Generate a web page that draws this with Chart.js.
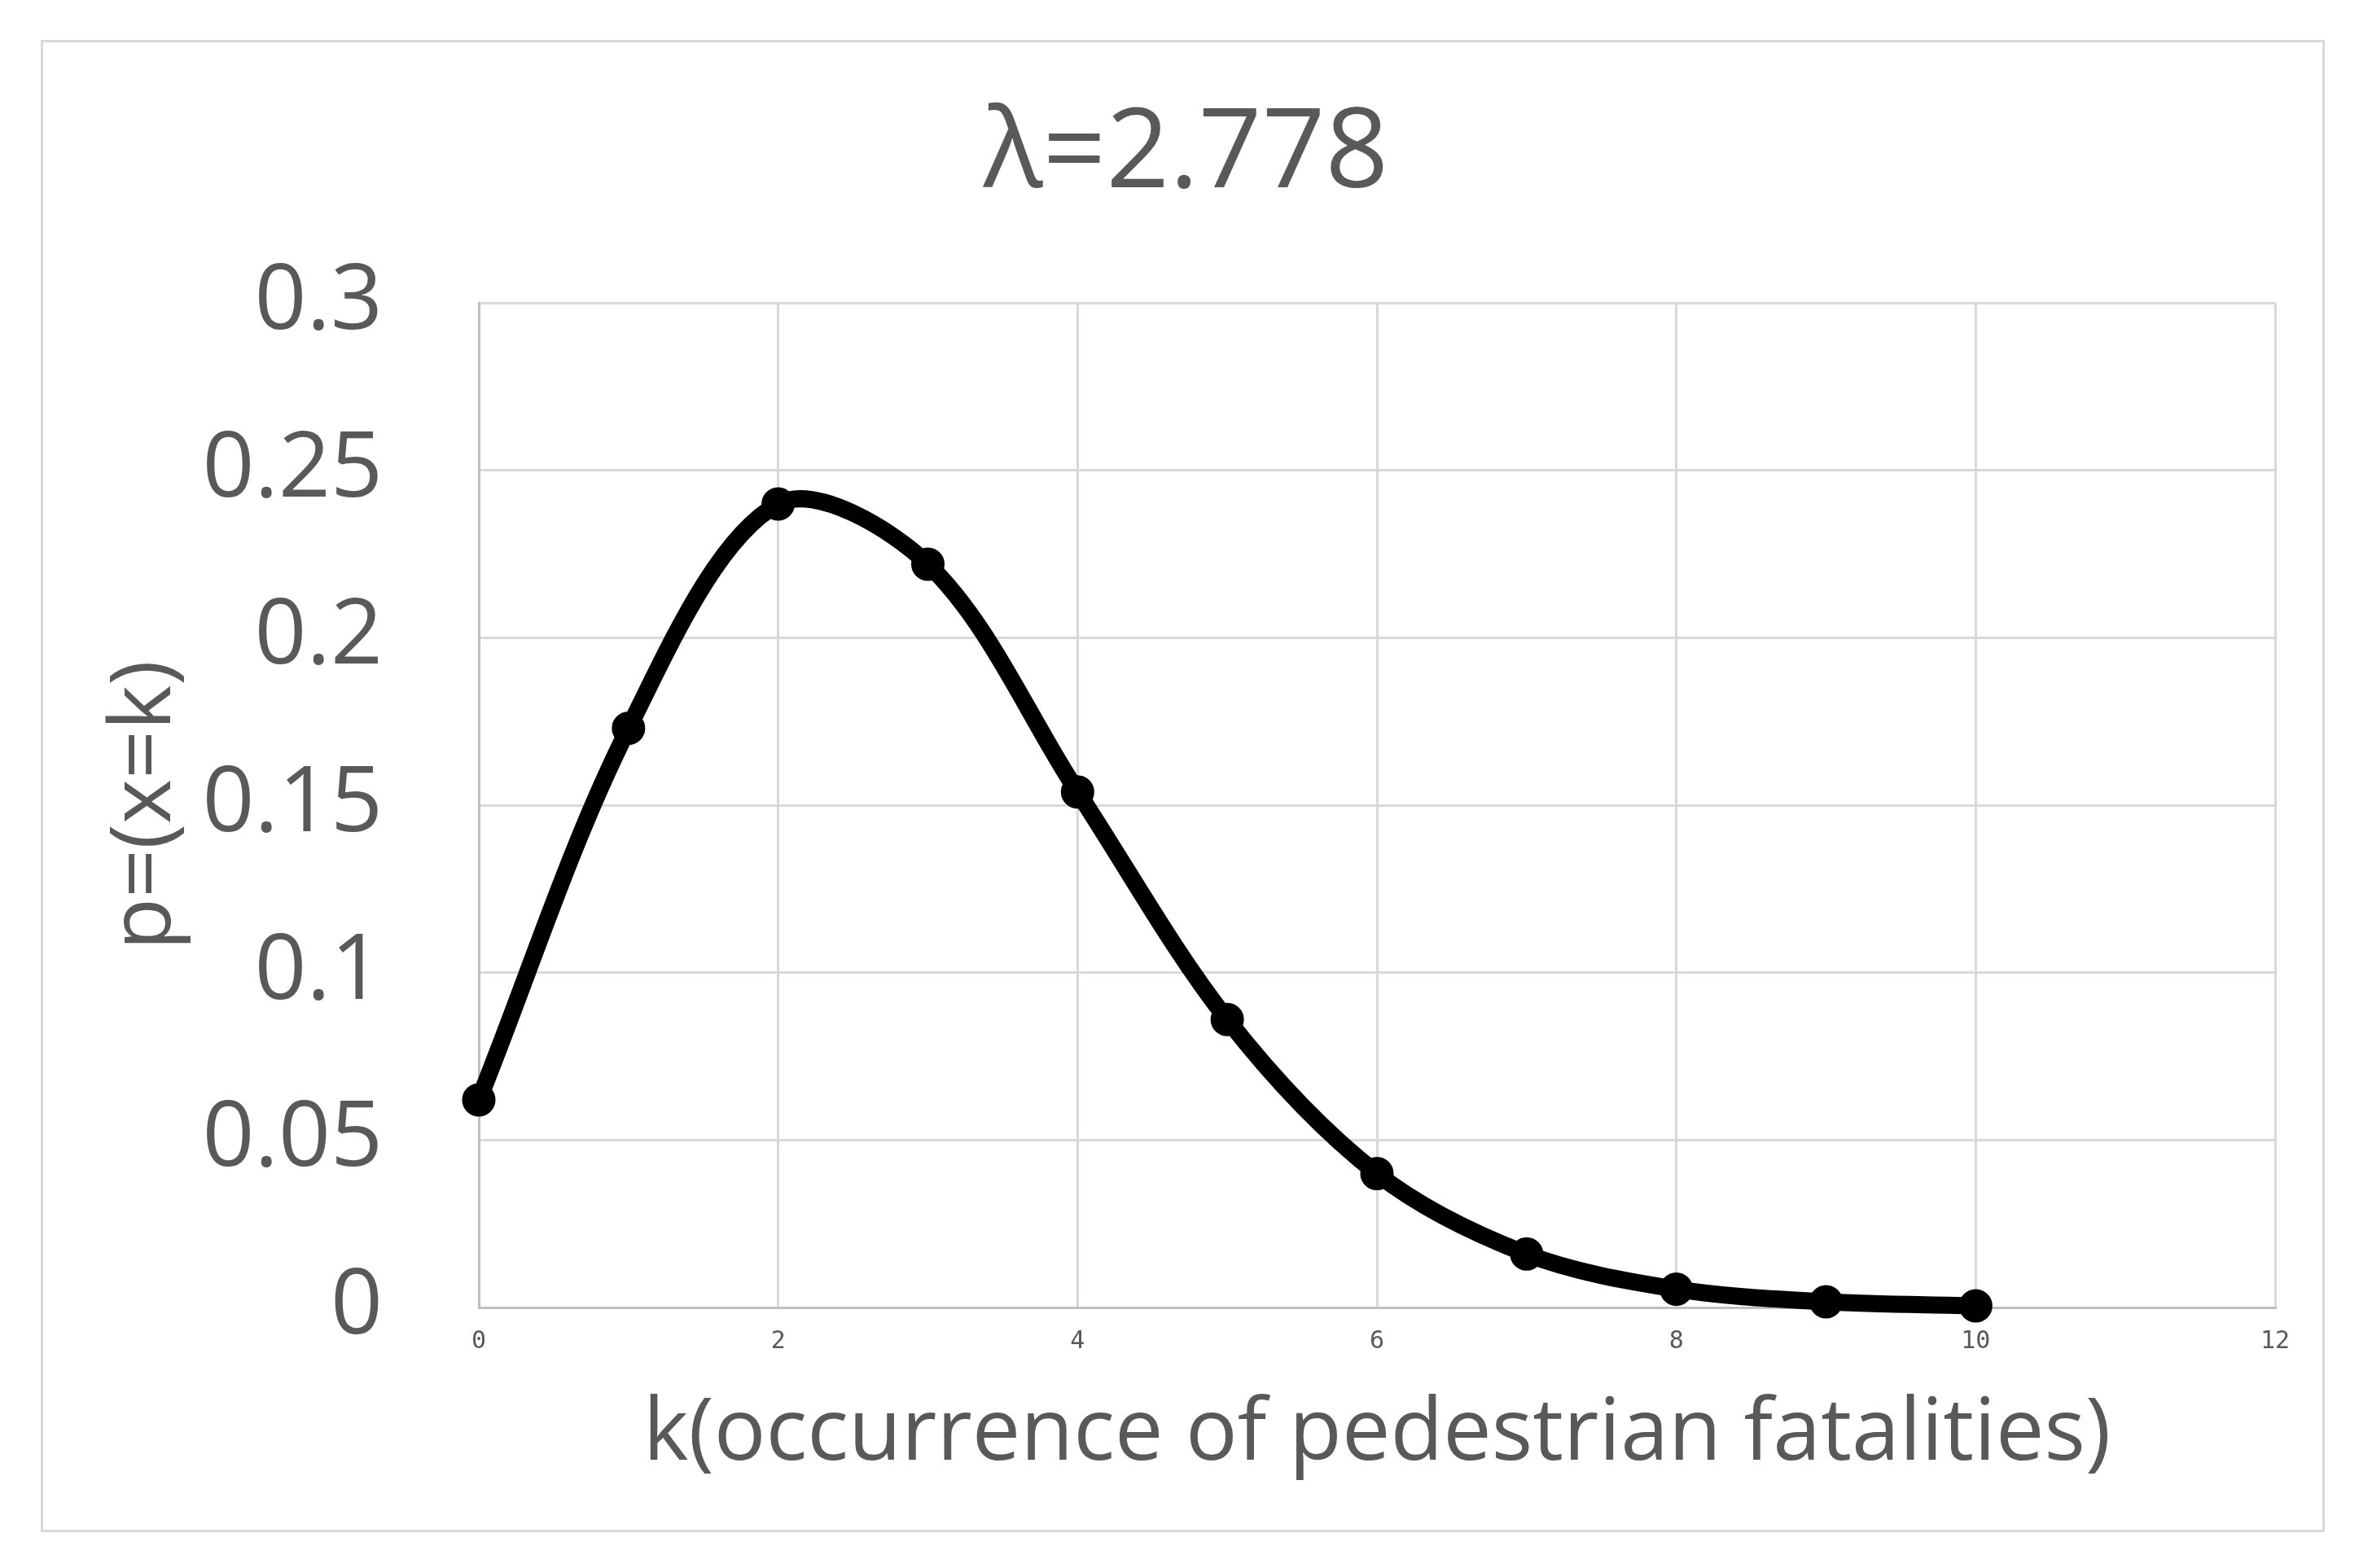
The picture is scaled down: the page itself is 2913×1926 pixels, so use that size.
<!DOCTYPE html>
<html>
<head>
<meta charset="utf-8">
<title>Poisson distribution</title>
<script src="https://cdn.jsdelivr.net/npm/chart.js"></script>
<style>
  html, body { margin: 0; padding: 0; background: #fff; }
  #wrap { position: relative; width: 2913px; height: 1926px; }
</style>
</head>
<body>
<div id="wrap"><canvas id="poissonChart"></canvas></div>
<script>
// values
const kValues = [0, 1, 2, 3, 4, 5, 6, 7, 8, 9, 10];
const probabilities = [0.062, 0.173, 0.240, 0.222, 0.154, 0.086, 0.040, 0.016, 0.0055, 0.0017, 0.0005];
const xTickLabels = ['0', '2', '4', '6', '8', '10', '12'];
const yTickLabels = ['0', '0.05', '0.1', '0.15', '0.2', '0.25', '0.3'];
const chartTitle = 'λ=2.778';
const xAxisTitle = 'k(occurrence of pedestrian fatalities)';
const yAxisTitle = 'p=(x=k)';

const textGrey = '#595959';
const gridGrey = '#d9d9d9';
const axisGrey = '#bfbfbf';
const mainFont = '"Open Sans", "Noto Sans", sans-serif';

// thin frame round the whole chart, like the Excel chart border
const outerFrame = {
  id: 'outerFrame',
  beforeDraw(chart) {
    const ctx = chart.ctx;
    ctx.save();
    ctx.strokeStyle = gridGrey;
    ctx.lineWidth = 3;
    ctx.strokeRect(51.5, 50.5, 2802, 1830);
    ctx.restore();
  }
};

const points = kValues.map((k, i) => ({ x: k, y: probabilities[i] }));

new Chart(document.getElementById('poissonChart'), {
  type: 'line',
  data: {
    datasets: [{
      data: points,
      borderColor: '#000',
      backgroundColor: '#000',
      borderWidth: 21,
      borderJoinStyle: 'round',
      borderCapStyle: 'round',
      tension: 0.33,
      pointRadius: 19,
      pointBorderWidth: 3,
      pointBackgroundColor: '#000',
      pointBorderColor: '#000',
      clip: false
    }]
  },
  options: {
    responsive: true,
    maintainAspectRatio: false,
    animation: false,
    devicePixelRatio: 1,
    layout: { padding: { left: 119, right: 119, top: 0, bottom: 0 } },
    plugins: {
      legend: { display: false },
      tooltip: { enabled: false },
      title: {
        display: true,
        text: chartTitle,
        color: textGrey,
        font: { family: mainFont, size: 136, weight: 'normal', lineHeight: 1.2 },
        padding: { top: 110, bottom: 99 }
      }
    },
    scales: {
      x: {
        type: 'linear',
        min: 0,
        max: 12,
        afterFit: (scale) => { scale.height = 320; },
        ticks: {
          stepSize: 2,
          padding: 24,
          color: textGrey,
          font: { family: '"DejaVu Sans Mono", monospace', size: 30 },
          callback: (value, index) => xTickLabels[index]
        },
        grid: {
          color: gridGrey,
          lineWidth: 3,
          drawTicks: false
        },
        border: { display: true, color: axisGrey, width: 3 },
        title: {
          display: true,
          text: xAxisTitle,
          color: textGrey,
          font: { family: mainFont, size: 106, weight: 'normal', lineHeight: 1.2 },
          padding: { top: 0, bottom: 100 }
        }
      },
      y: {
        min: 0,
        max: 0.3,
        afterFit: (scale) => { scale.width = 588 - 119; },
        ticks: {
          stepSize: 0.05,
          padding: 118,
          color: textGrey,
          font: { family: mainFont, size: 112, weight: 'normal' },
          callback: (value, index) => yTickLabels[index]
        },
        grid: {
          color: gridGrey,
          lineWidth: 3,
          drawTicks: false
        },
        border: { display: true, color: axisGrey, width: 3 },
        title: {
          display: true,
          text: yAxisTitle,
          color: textGrey,
          font: { family: mainFont, size: 105, weight: 'normal', lineHeight: 1 },
          padding: { top: 8, bottom: 0 }
        }
      }
    }
  },
  plugins: [outerFrame]
});
</script>
</body>
</html>
